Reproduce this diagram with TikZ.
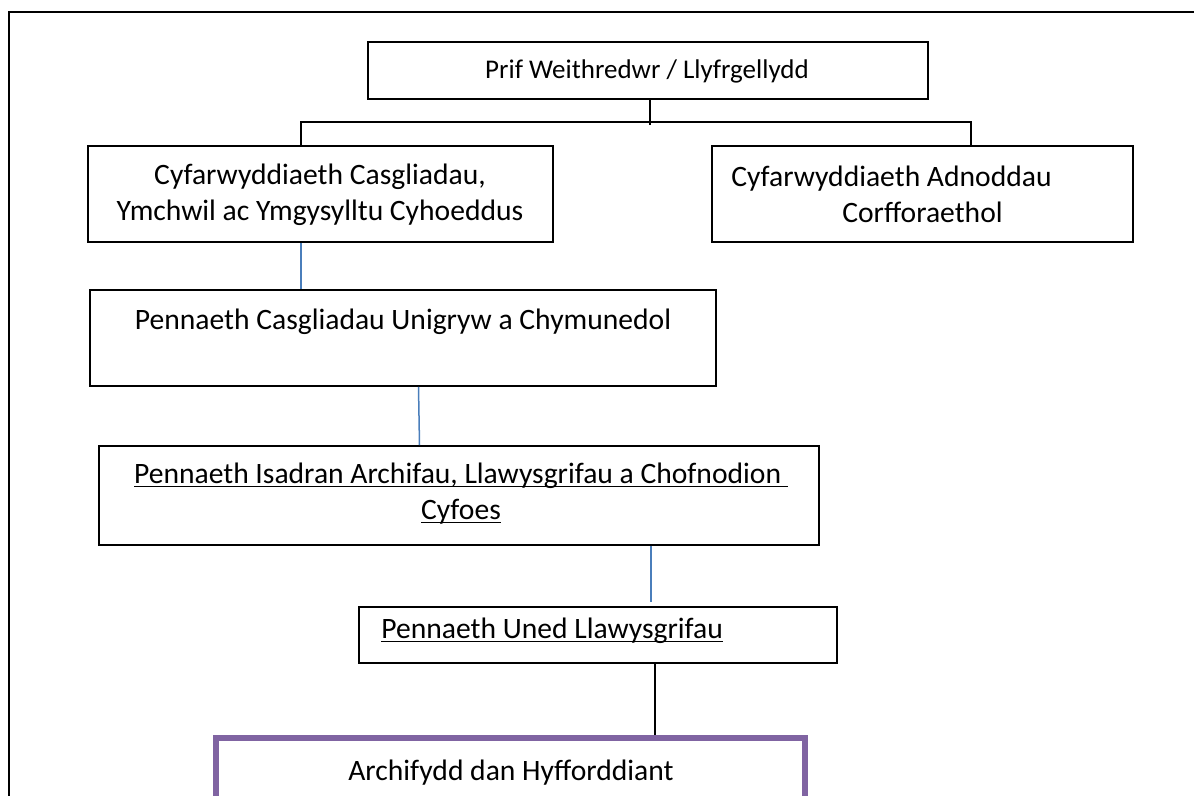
\documentclass[tikz,border=0pt]{standalone}
\usepackage{fontspec}
\setmainfont{Carlito}
\newsavebox\wulbox
\newcommand\wul[1]{\sbox\wulbox{#1}\rlap{\rule[-2.2pt]{\wd\wulbox}{0.65pt}}\usebox\wulbox}
\definecolor{connblue}{HTML}{4A7EBB}
\definecolor{boxpurple}{HTML}{8064A2}
\begin{document}
\begin{tikzpicture}[x=0.5pt,y=-0.5pt,
  box/.style={draw=black, line width=0.9pt, rectangle, inner sep=0pt},
  lbl/.style={inner sep=0pt, anchor=base, align=center, font=\fontsize{14.8}{18}\selectfont},
  smalllbl/.style={inner sep=0pt, anchor=base, font=\fontsize{13.5}{16}\selectfont},
  blk/.style={draw=black, line width=0.8pt},
  blu/.style={draw=connblue, line width=0.75pt}]
\useasboundingbox (0,0) rectangle (1194,796);
\clip (0,0) rectangle (1194,796);
% outer frame
\draw[line width=1.3pt] (9,900) -- (9,12) -- (1300,12);
% boxes
\node[box, minimum width=280pt, minimum height=28.5pt] (P) at (648,70.5) {};
\node[box, minimum width=232.5pt, minimum height=48pt] (A) at (320.5,194) {};
\node[box, minimum width=210.5pt, minimum height=48pt] (B) at (922.5,194) {};
\node[box, minimum width=313pt, minimum height=48pt] (C) at (403,338) {};
\node[box, minimum width=360pt, minimum height=49.5pt] (D) at (459,495.5) {};
\node[box, minimum width=239pt, minimum height=28pt] (E) at (598,635) {};
\node[draw=boxpurple, line width=3pt, rectangle, inner sep=0pt, minimum width=294.5pt, minimum height=60pt] (F) at (510.5,798) {};
% texts (multi-line nodes: base = baseline of last line)
\node[smalllbl] (Pt) at (647,79) {Prif Weithredwr / Llyfrgellydd};
\node[lbl] (At) at (320,221) {Cyfarwyddiaeth Casgliadau,\\Ymchwil ac Ymgysylltu Cyhoeddus};
\node[lbl] (Bt) at (922.5,223) {Cyfarwyddiaeth Adnoddau\rule{31pt}{0pt}\\Corfforaethol};
\node[lbl] (Ct) at (403,330) {Pennaeth Casgliadau Unigryw a Chymunedol};
\node[lbl] (Dt) at (461,519) {\wul{Pennaeth Isadran Archifau, Llawysgrifau a Chofnodion\ }\\\wul{Cyfoes}};
\node[lbl, anchor=base west] (Et) at (381,638) {\wul{Pennaeth Uned Llawysgrifau}};
\node[lbl] (Ft) at (511,780) {Archifydd dan Hyfforddiant};
% connector coordinates
\coordinate (hl) at (301,122);
\coordinate (hr) at (971,122);
\coordinate (pt) at (650,125);
\coordinate (de) at (651,602);
% black connectors
\draw[blk] (P.south -| pt) -- (pt);
\draw[blk] (A.north -| hl) -- (hl) -- (hr) -- (B.north -| hr);
\draw[blk] (E.south -| 655,0) -- (F.north -| 655,0);
% blue connectors
\draw[blu] (A.south -| hl) -- (C.north -| hl);
\draw[blu] (C.south -| 418.5,0) -- (D.north -| 419.5,0);
\draw[blu] (D.south -| de) -- (de);
\end{tikzpicture}
\end{document}
